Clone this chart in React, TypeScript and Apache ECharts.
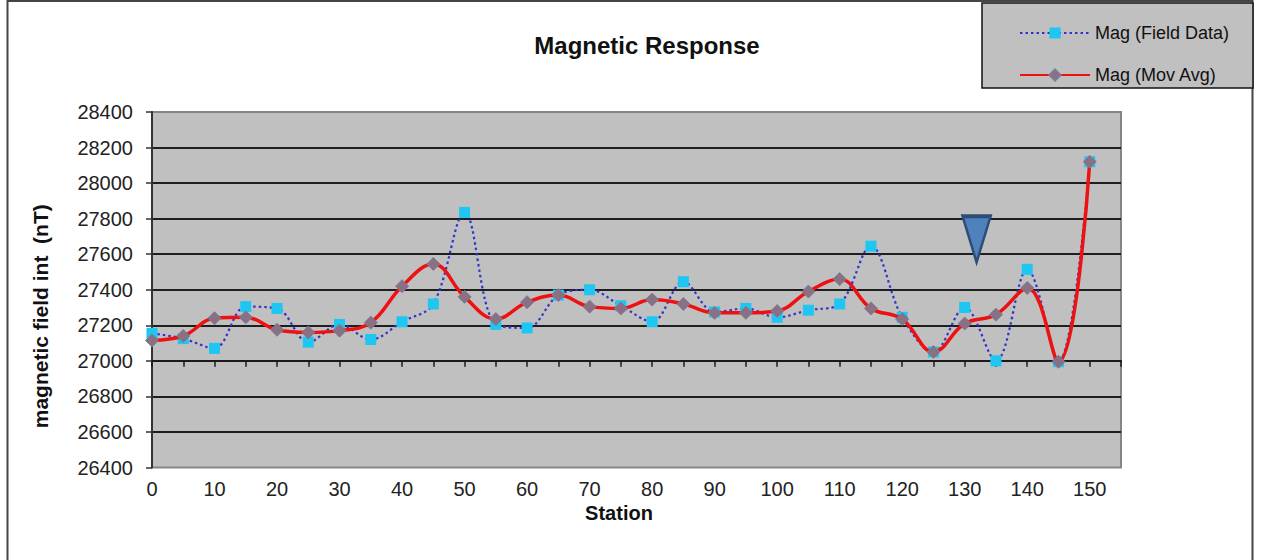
import React, { useEffect, useRef } from "react";
import * as echarts from "echarts";

const stations = [0, 5, 10, 15, 20, 25, 30, 35, 40, 45, 50, 55, 60, 65, 70, 75, 80, 85, 90, 95, 100, 105, 110, 115, 120, 125, 130, 135, 140, 145, 150];

const fieldData = [27155, 27125, 27070, 27305, 27295, 27105, 27205, 27120, 27220, 27320, 27835, 27205, 27185, 27370, 27400, 27310, 27220, 27445, 27275, 27295, 27245, 27285, 27320, 27645, 27245, 27050, 27300, 27000, 27515, 26995, 28120];

const movAvg = [27115, 27140, 27240, 27245, 27175, 27160, 27170, 27215, 27420, 27545, 27360, 27235, 27330, 27370, 27305, 27295, 27345, 27320, 27270, 27270, 27280, 27390, 27460, 27295, 27235, 27050, 27210, 27260, 27410, 26995, 28120];

const yMin = 26400;
const yMax = 28400;
const yStep = 200;
const xMin = 0;
const xMax = 155;
const xStep = 5;
const axisCross = 27000;
const markerStation = 131.9;
const markerValue = 27684;

const W = 1261;
const H = 560;
const gridLeft = 152;
const gridRight = 140;
const gridTop = 112;
const gridBottom = 92.5;

export default function App() {
  const ref = useRef<HTMLDivElement>(null);
  useEffect(() => {
    if (!ref.current) return;
    const chart = echarts.init(ref.current, undefined, { renderer: "svg" });
    const plotH = H - gridTop - gridBottom;
    const crossY = gridTop + ((yMax - axisCross) / (yMax - yMin)) * plotH;
    const font = "'Liberation Sans', Arial, sans-serif";
    chart.setOption({
      animation: false,
      backgroundColor: "#ffffff",
      textStyle: { fontFamily: font },
      title: {
        text: "Magnetic Response",
        left: 642,
        top: 28,
        textAlign: "center",
        textStyle: { fontSize: 24, fontWeight: "bold", color: "#111", fontFamily: font },
      },
      graphic: [
        {
          type: "rect",
          z: 0,
          shape: { x: 7.5, y: 1, width: 1245, height: 600 },
          style: { fill: "none", stroke: "#444", lineWidth: 2 },
        },
        {
          type: "rect",
          z: 0,
          shape: { x: 982, y: 3, width: 271, height: 85 },
          style: { fill: "#c0c0c0", stroke: "#111", lineWidth: 1.5 },
        },
      ],
      legend: {
        orient: "vertical",
        left: 1014,
        top: 19,
        z: 10,
        itemWidth: 70,
        itemHeight: 14,
        itemGap: 24,
        textStyle: { fontSize: 18, color: "#111", fontFamily: font },
        data: ["Mag (Field Data)", "Mag (Mov Avg)"],
      },
      grid: [
        {
          left: gridLeft,
          right: gridRight,
          top: gridTop,
          bottom: gridBottom,
          show: true,
          backgroundColor: "#c0c0c0",
          borderColor: "#858585",
          borderWidth: 2,
        },
        {
          left: gridLeft,
          right: gridRight,
          top: gridTop,
          height: crossY - gridTop,
          show: false,
        },
      ],
      xAxis: [
        {
          type: "value",
          gridIndex: 0,
          min: xMin,
          max: xMax,
          interval: xStep,
          name: "Station",
          nameLocation: "middle",
          nameGap: 35,
          nameTextStyle: { fontSize: 20, fontWeight: "bold", color: "#111", padding: [0, 35, 0, 0] },
          axisLine: { show: false },
          axisTick: { show: false },
          splitLine: { show: false },
          axisLabel: {
            fontSize: 20,
            color: "#222",
            margin: 11,
            formatter: (v: number) => (v % 10 === 0 && v <= 150 ? String(v) : ""),
          },
        },
        {
          type: "value",
          gridIndex: 1,
          min: xMin,
          max: xMax,
          interval: xStep,
          position: "bottom",
          axisLine: { show: true, onZero: false, lineStyle: { color: "#1a1a1a", width: 2 } },
          axisTick: { show: true, length: 6, lineStyle: { color: "#1a1a1a", width: 1.5 } },
          axisLabel: { show: false },
          splitLine: { show: false },
        },
      ],
      yAxis: [
        {
          type: "value",
          gridIndex: 0,
          min: yMin,
          max: yMax,
          interval: yStep,
          name: "magnetic field int  (nT)",
          nameLocation: "middle",
          nameGap: 101,
          nameRotate: 90,
          nameTextStyle: { fontSize: 21, fontWeight: "bold", color: "#111", padding: [0, 53, 0, 0] },
          axisLine: { show: true, lineStyle: { color: "#333", width: 2 } },
          axisTick: { show: true, length: 6, lineStyle: { color: "#333", width: 1.5 } },
          axisLabel: { fontSize: 20, color: "#222", margin: 19, formatter: (v: number) => String(v) },
          splitLine: { show: true, showMinLine: false, showMaxLine: false, lineStyle: { color: "#1e1e1e", width: 2 } },
        },
        {
          type: "value",
          gridIndex: 1,
          min: 0,
          max: 1,
          show: false,
        },
      ],
      series: [
        {
          name: "Mag (Field Data)",
          type: "line",
          xAxisIndex: 0,
          yAxisIndex: 0,
          data: stations.map((s, i) => [s, fieldData[i]]),
          smooth: 0.35,
          symbol: "rect",
          symbolSize: 11,
          lineStyle: { color: "#3333cc", width: 2.2, type: [2.5, 3] },
          itemStyle: { color: "#1ec6f2" },
          z: 3,
          markPoint: {
            silent: true,
            symbol: "triangle",
            symbolRotate: 180,
            symbolSize: [28, 46],
            label: { show: false },
            itemStyle: { color: "#4f81bd", borderColor: "#2c4d75", borderWidth: 3 },
            data: [{ coord: [markerStation, markerValue] }],
          },
        },
        {
          name: "Mag (Mov Avg)",
          type: "line",
          xAxisIndex: 0,
          yAxisIndex: 0,
          data: stations.map((s, i) => [s, movAvg[i]]),
          smooth: 0.4,
          symbol: "diamond",
          symbolSize: 13,
          lineStyle: { color: "#ee1111", width: 3.5 },
          itemStyle: { color: "#8a7082", borderColor: "#7c7c96", borderWidth: 1 },
          z: 4,
        },
      ],
    });
    return () => chart.dispose();
  }, []);
  return <div ref={ref} style={{ position: "fixed", left: 0, top: 0, width: W, height: H }} />;
}
